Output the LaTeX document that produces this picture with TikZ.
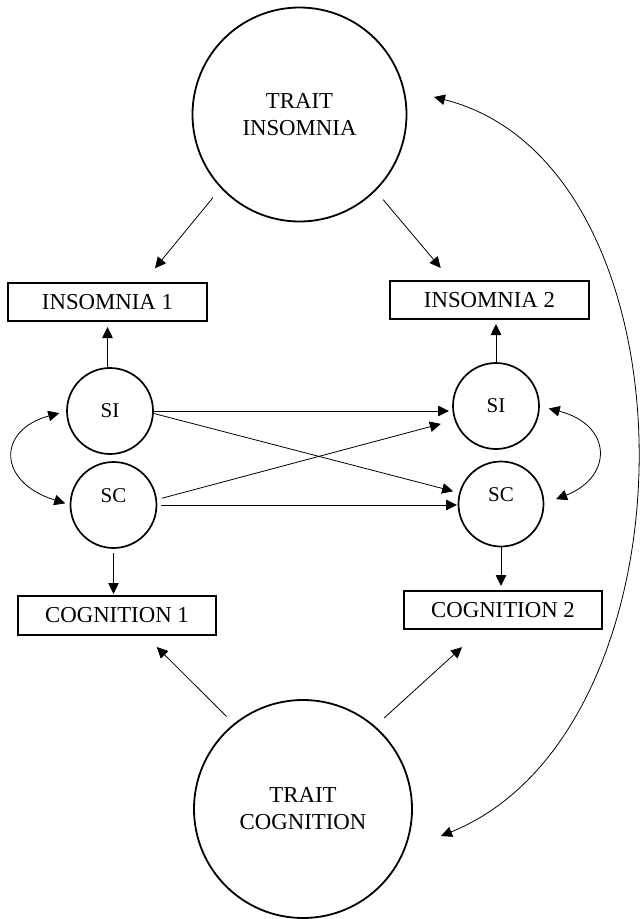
\documentclass[tikz,border=0pt]{standalone}
\usepackage{fontspec}
\setmainfont{Liberation Serif}
\usetikzlibrary{calc,arrows.meta}
\begin{document}
\begin{tikzpicture}[x=1pt,y=-1pt,
  bigc/.style={circle,draw,line width=1.8pt,minimum size=#1,inner sep=0pt,outer sep=0pt,align=center,font=\fontsize{22.8}{27}\selectfont},
  smc/.style={circle,draw,line width=1.7pt,minimum size=86pt,inner sep=0pt,outer sep=0pt,font=\fontsize{21}{24}\selectfont},
  boxn/.style={rectangle,draw,line width=1.2pt,minimum width=199pt,minimum height=38pt,inner sep=0pt,outer sep=0pt,font=\fontsize{22.8}{27}\selectfont},
  lbl/.style={font=\fontsize{21}{24}\selectfont,yshift=9pt},
  arr/.style={line width=0.8pt,-{Triangle[length=11pt,width=10.5pt]}},
  darr/.style={line width=0.8pt,{Triangle[length=11pt,width=10.5pt]}-{Triangle[length=11pt,width=10.5pt]}}
]
\useasboundingbox (0,0) rectangle (640,919);

\node[bigc=214pt] (ti) at (299.5,114.5) {TRAIT\\INSOMNIA};
\node[bigc=218pt] (tc) at (303,809) {TRAIT\\COGNITION};

\node[boxn] (ins1) at (107.5,302) {INSOMNIA 1};
\node[boxn] (ins2) at (489.5,300) {INSOMNIA 2};
\node[boxn,minimum width=198pt,minimum height=39pt] (cog1) at (117,615.5) {COGNITION 1};
\node[boxn,minimum width=198pt] (cog2) at (503,610) {COGNITION 2};

\node[smc] (si1) at (110,411) {SI};
\node[smc,label={[name=sc1t,lbl]center:SC}] (sc1) at (113.5,505) {};
\node[smc] (si2) at (496,406) {SI};
\node[smc,minimum size=85pt,label={[name=sc2t,lbl]center:SC}] (sc2) at (501,504) {};

% trait insomnia to indicators
\draw[arr, shorten <=13pt, shorten >=19pt] (ti.223.3) -- ($(ins1.north west)!0.678!(ins1.north east)$);
\draw[arr, shorten <=12.5pt, shorten >=17pt] (ti.-45.7) -- ($(ins2.north west)!0.31!(ins2.north east)$);

% state factors to indicators
\draw[arr, shorten >=6pt] (si1.north -| ins1.south) -- (ins1.south);
\draw[arr, shorten >=5pt] (si2.north) -- (si2.north |- ins2.south);
\draw[arr, shorten <=5pt, shorten >=2pt] (sc1.south) -- (sc1.south |- cog1.north);
\draw[arr, shorten >=5pt] (sc2.south) -- (sc2.south |- cog2.north);

% autoregressive and cross-lagged paths
\draw[arr, shorten >=4pt] (si1.east) -- (si1.east -| si2.west);
\draw[arr, line width=1pt, shorten <=4pt, shorten >=1.5pt] (sc1.east) -- (sc1.east -| sc2.west);
\draw[arr, shorten >=7pt] (si1.-3) -- (sc2.165);
\draw[arr, shorten <=6pt, shorten >=15pt] (sc1.7) -- (si2.199);

% trait cognition to indicators
\draw[arr, shorten <=11pt, shorten >=17pt] (tc.129.9) -- ($(cog1.south west)!0.64!(cog1.south east)$);
\draw[arr, shorten <=13pt, shorten >=27pt] (tc.49) -- ($(cog2.south west)!0.394!(cog2.south east)$);

% correlations
\draw[darr, shorten <=8pt, shorten >=5.5pt] (si1.west) .. controls +(-70,19) and +(-73.5,-23) .. (sc1.west);
\draw[darr, shorten <=10pt, shorten >=13.5pt] (si2.east) .. controls +(74,19) and +(69.5,-27) .. (sc2.east);
\draw[darr] ($(ti.center)+(134.5,-17.5)$) .. controls ($(ti.center)+(403.5,50.5)$) and ($(tc.center)+(400,-79)$) .. ($(tc.center)+(138,27)$);
\end{tikzpicture}
\end{document}
